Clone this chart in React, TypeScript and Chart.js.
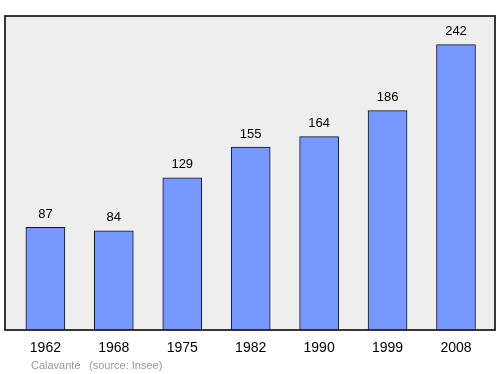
import React, { useEffect, useRef } from "react";
import { Chart, registerables } from "chart.js";

Chart.register(...registerables);

const years = ["1962", "1968", "1975", "1982", "1990", "1999", "2008"];
const population = [87, 84, 129, 155, 164, 186, 242];
const footerPlace = "Calavanté";
const footerSource = "(source: Insee)";

const FONT = "'Liberation Sans', Arial, sans-serif";

const boxPlugin = {
  id: "boxPlugin",
  beforeDraw(chart: any) {
    const { ctx, chartArea } = chart;
    ctx.save();
    ctx.fillStyle = "#eeeeee";
    ctx.fillRect(chartArea.left, chartArea.top, chartArea.right - chartArea.left, chartArea.bottom - chartArea.top);
    ctx.restore();
  },
  afterDatasetsDraw(chart: any) {
    const { ctx, chartArea } = chart;
    ctx.save();
    ctx.strokeStyle = "#222222";
    ctx.lineWidth = 1.8;
    ctx.strokeRect(chartArea.left, chartArea.top, chartArea.right - chartArea.left, chartArea.bottom - chartArea.top);
    // value labels
    const meta = chart.getDatasetMeta(0);
    ctx.fillStyle = "#000000";
    ctx.font = `13px ${FONT}`;
    ctx.textAlign = "center";
    ctx.textBaseline = "middle";
    meta.data.forEach((el: any, i: number) => {
      ctx.fillText(String(population[i]), el.x, el.y - 13);
    });
    // footer
    ctx.fillStyle = "#999999";
    ctx.font = `11px ${FONT}`;
    ctx.textAlign = "left";
    ctx.textBaseline = "alphabetic";
    ctx.fillText(footerPlace, 31, 369);
    ctx.fillText(footerSource, 89, 369);
    ctx.restore();
  },
};

export default function App() {
  const ref = useRef<HTMLCanvasElement | null>(null);
  useEffect(() => {
    document.body.style.margin = "0";
    const chart = new Chart(ref.current!, {
      type: "bar",
      data: {
        datasets: [
          {
            data: population.map((v, i) => ({ x: i, y: v })),
            backgroundColor: "#7799ff",
            borderColor: "#111122",
            borderWidth: 1,
            borderSkipped: "bottom",
            barThickness: 39,
          },
        ],
      },
      options: {
        animation: false,
        responsive: false,
        maintainAspectRatio: false,
        layout: { padding: { top: 16, left: 5, right: 5, bottom: 0 } },
        plugins: { legend: { display: false }, tooltip: { enabled: false } },
        scales: {
          x: {
            type: "linear",
            min: -0.59,
            max: 6.57,
            offset: false,
            bounds: "data",
            grid: { display: false, drawTicks: false, offset: false },
            border: { display: false },
            afterBuildTicks: (scale: any) => {
              scale.ticks = years.map((_, i) => ({ value: i }));
            },
            afterFit: (scale: any) => {
              scale.height = 44;
            },
            ticks: {
              autoSkip: false,
              maxRotation: 0,
              padding: 10,
              color: "#000000",
              font: { family: FONT, size: 14 },
              callback: (v: any) => years[v as number] ?? "",
            },
          },
          y: {
            display: false,
            min: 0,
            max: 266.2,
          },
        },
      },
      plugins: [boxPlugin],
    });
    return () => chart.destroy();
  }, []);
  return (
    <div style={{ position: "absolute", left: 0, top: 0, width: 500, height: 374, background: "#ffffff" }}>
      <canvas ref={ref} width={500} height={374} style={{ width: 500, height: 374 }} />
    </div>
  );
}
